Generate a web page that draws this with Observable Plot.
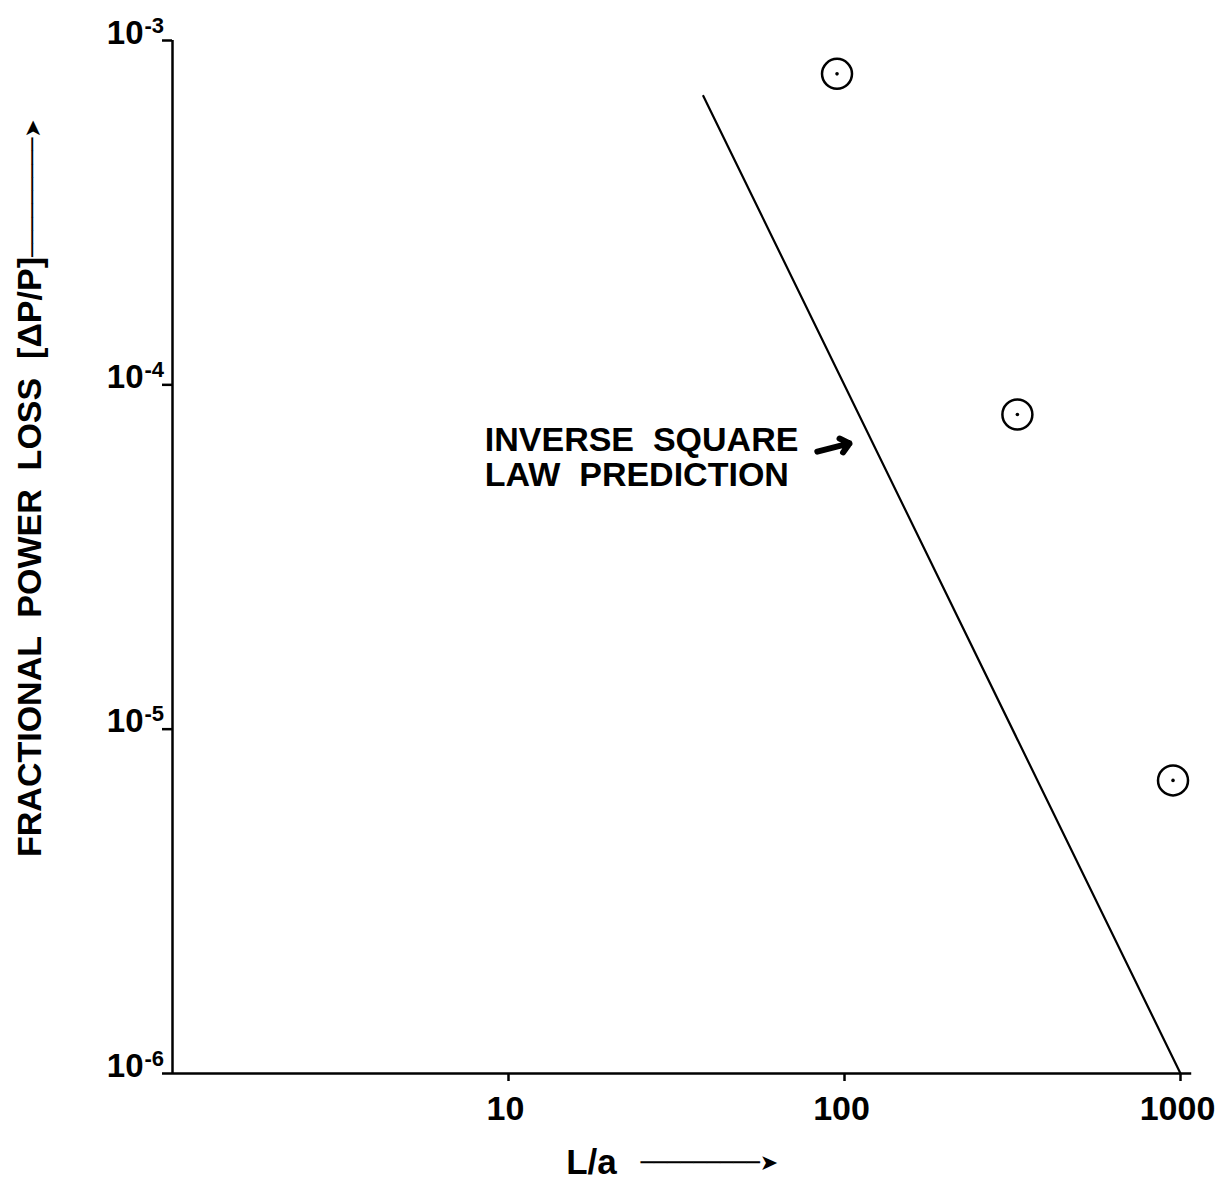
<!DOCTYPE html>
<html><head><meta charset="utf-8">
<script src="https://cdn.jsdelivr.net/npm/d3@7"></script>
<script src="https://cdn.jsdelivr.net/npm/@observablehq/plot@0.6"></script>
<style>
body{margin:0;background:#fff}
svg{display:block}
svg [aria-label$="tick"] path, svg .tick line {stroke-width:2.5px; stroke:#000}
</style>
</head><body><div id="chart"></div>
<script>
// Measured data points (L/a, ΔP/P)
const measuredLa = [95, 327, 950];
const measuredLoss = [8.0e-4, 8.2e-5, 7.1e-6];
// Inverse square law prediction line endpoints
const predictionLa = [38, 1000];
const predictionLoss = [6.9e-4, 1.0e-6];
// Axis ticks
const xTicks = [10, 100, 1000];
const xTickLabels = ["10", "100", "1000"];
const yTicks = [1e-3, 1e-4, 1e-5, 1e-6];
const yTickExponents = ["-3", "-4", "-5", "-6"];
// Text
const xTitle = "L/a";
const yTitle = "FRACTIONAL  POWER  LOSS  [ΔP/P]";
const titleArrow = "─────────➤";
const annotationText = "INVERSE  SQUARE\nLAW  PREDICTION";
const annotationPos = [8.5, 6.15e-5];
const pointerFrom = [83, 6.4e-5];
const pointerTo = [103.5, 6.76e-5];

const points = measuredLa.map((x, i) => ({x, y: measuredLoss[i]}));
const line = predictionLa.map((x, i) => ({x, y: predictionLoss[i]}));
const F = "'Liberation Sans', Arial, Helvetica, sans-serif";

const chart = Plot.plot({
  width: 1229, height: 1179,
  marginLeft: 172, marginRight: 49, marginTop: 40, marginBottom: 106,
  style: {background: "#fff", color: "#000"},
  x: {type: "log", domain: [1, 1000], ticks: xTicks, tickSize: 8, tickFormat: () => "", label: null},
  y: {type: "log", domain: [1e-6, 1e-3], ticks: yTicks, tickSize: 10, tickFormat: () => "", label: null},
  marks: [
    // axis lines
    Plot.ruleX([1], {y1: 1e-6, y2: 1e-3, stroke: "#000", strokeWidth: 2.5}),
    Plot.ruleY([1e-6], {x1: 1, x2: 1080, stroke: "#000", strokeWidth: 2.5}),
    // y tick labels
    Plot.text(yTicks, {y: d => d, frameAnchor: "left", text: () => "10", textAnchor: "end", lineAnchor: "bottom",
      dx: -29, dy: 3, fontSize: 33, fontFamily: F, fontWeight: "bold", fill: "#000"}),
    Plot.text(yTicks, {y: d => d, frameAnchor: "left", text: (d, i) => yTickExponents[i], textAnchor: "start", lineAnchor: "bottom",
      dx: -28, dy: -8, fontSize: 22, fontFamily: F, fontWeight: "bold", fill: "#000"}),
    // x tick labels
    Plot.text(xTicks, {x: d => d, frameAnchor: "bottom", text: (d, i) => xTickLabels[i], lineAnchor: "bottom",
      dx: -3, dy: 46, fontSize: 34, fontFamily: F, fontWeight: "bold", fill: "#000"}),
    // x title with arrow
    Plot.text([xTitle], {frameAnchor: "bottom", text: d => d, lineAnchor: "bottom", dx: -85, dy: 100,
      fontSize: 35, fontFamily: F, fontWeight: "bold", fill: "#000"}),
    Plot.text([titleArrow], {frameAnchor: "bottom", text: d => d, lineAnchor: "middle", textAnchor: "start", dx: -36, dy: 89,
      fontSize: 22, fontFamily: "DejaVu Sans", fontWeight: "bold", fill: "#000"}),
    // y title with arrow
    Plot.text([yTitle], {frameAnchor: "left", text: d => d, rotate: -90, lineAnchor: "middle", textAnchor: "middle",
      dx: -142, dy: 0, fontSize: 34, fontFamily: F, fontWeight: "bold", fill: "#000"}),
    Plot.text([titleArrow], {frameAnchor: "left", text: d => d, rotate: -90, lineAnchor: "middle", textAnchor: "start",
      dx: -140, dy: -300, fontSize: 22, fontFamily: "DejaVu Sans", fontWeight: "bold", fill: "#000"}),
    // prediction line
    Plot.line(line, {x: "x", y: "y", stroke: "#000", strokeWidth: 2.2}),
    // annotation
    Plot.text([annotationText], {x: () => annotationPos[0], y: () => annotationPos[1], text: d => d, textAnchor: "start",
      lineAnchor: "middle", lineHeight: 1.02, fontSize: 34, fontFamily: F, fontWeight: "bold", fill: "#000"}),
    Plot.arrow([0], {x1: () => pointerFrom[0], y1: () => pointerFrom[1], x2: () => pointerTo[0], y2: () => pointerTo[1],
      stroke: "#000", strokeWidth: 6, headLength: 7, headAngle: 80, strokeLinecap: "round"}),
    // measured points
    Plot.dot(points, {x: "x", y: "y", r: 15, stroke: "#000", strokeWidth: 2.5, fill: "none"}),
    Plot.dot(points, {x: "x", y: "y", r: 1.8, fill: "#000"})
  ]
});
document.getElementById("chart").appendChild(chart);
</script>
</body></html>
